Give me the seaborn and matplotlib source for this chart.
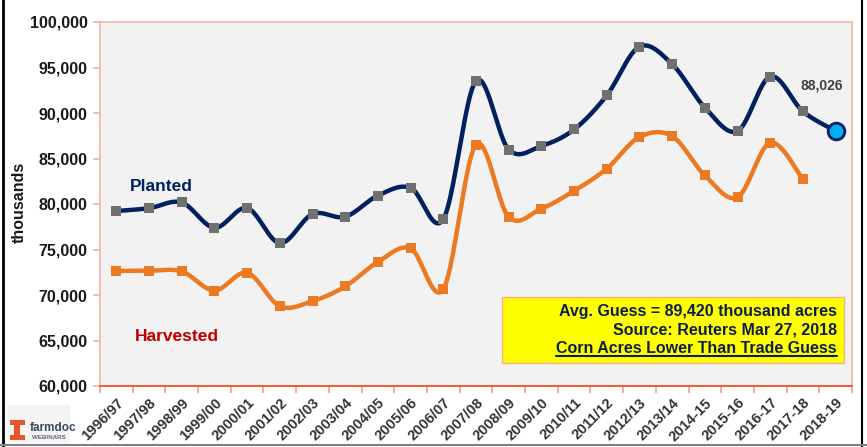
import numpy as np
import pandas as pd
import matplotlib
matplotlib.use("Agg")
import matplotlib.pyplot as plt
import seaborn as sns
from matplotlib.lines import Line2D
from matplotlib.patches import Rectangle

seasons = ["1996/97", "1997/98", "1998/99", "1999/00", "2000/01", "2001/02", "2002/03",
           "2003/04", "2004/05", "2005/06", "2006/07", "2007/08", "2008/09", "2009/10",
           "2010/11", "2011/12", "2012/13", "2013/14", "2014-15", "2015-16", "2016-17",
           "2017-18", "2018-19"]
planted = [79229, 79537, 80165, 77386, 79551, 75702, 78894, 78603, 80929, 81779, 78327,
           93527, 85982, 86382, 88192, 91936, 97291, 95365, 90597, 88019, 94004, 90167, 88026]
harvested = [72644, 72671, 72589, 70487, 72440, 68768, 69330, 70944, 73631, 75117, 70638,
             86520, 78570, 79490, 81446, 83879, 87365, 87451, 83136, 80753, 86748, 82703]
yticks = [60000, 65000, 70000, 75000, 80000, 85000, 90000, 95000, 100000]
notes = ["Avg. Guess = 89,420 thousand acres", "Source: Reuters Mar 27, 2018",
         "Corn Acres Lower Than Trade Guess"]

NAVY = "#002060"
ORANGE = "#EB7A23"
GREY = "#707070"

sns.set_theme(style="white")
plt.rcParams["font.family"] = ["Liberation Sans", "DejaVu Sans"]
plt.rcParams["font.weight"] = "bold"


def smooth_path(y, n=24):
    """Catmull-Rom style smoothing (like Excel's smoothed line) for drawing only."""
    x = np.arange(len(y), dtype=float)
    y = np.asarray(y, dtype=float)
    xs, ys = [], []
    for i in range(len(y) - 1):
        i0, i3 = max(i - 1, 0), min(i + 2, len(y) - 1)
        p0, p1, p2, p3 = (np.array([x[k], y[k]]) for k in (i0, i, i + 1, i3))
        t = np.linspace(0, 1, n, endpoint=(i == len(y) - 2))[:, None]
        pts = 0.5 * ((2 * p1) + (-p0 + p2) * t + (2 * p0 - 5 * p1 + 4 * p2 - p3) * t ** 2
                     + (-p0 + 3 * p1 - 3 * p2 + p3) * t ** 3)
        xs.append(pts[:, 0]); ys.append(pts[:, 1])
    return np.concatenate(xs), np.concatenate(ys)


fig = plt.figure(figsize=(8.67, 4.47), dpi=100)
fig.patch.set_facecolor("white")
ax = fig.add_axes([100 / 867, 61 / 447, 752 / 867, 364 / 447])
ax.set_facecolor("#F2F2F2")

# smooth lines
px, py = smooth_path(planted)
hx, hy = smooth_path(harvested)
sns.lineplot(x=px, y=py, ax=ax, color=NAVY, lw=3.2, sort=False, zorder=3)
sns.lineplot(x=hx, y=hy, ax=ax, color=ORANGE, lw=3.2, sort=False, zorder=3)

# markers
dfp = pd.DataFrame({"i": np.arange(len(planted) - 1), "v": planted[:-1]})
dfh = pd.DataFrame({"i": np.arange(len(harvested)), "v": harvested})
sns.scatterplot(data=dfp, x="i", y="v", ax=ax, marker="s", s=50, color=GREY,
                edgecolor=GREY, linewidth=0, zorder=4)
sns.scatterplot(data=dfh, x="i", y="v", ax=ax, marker="s", s=50, color=ORANGE,
                edgecolor=ORANGE, linewidth=0, zorder=4)
last = len(planted) - 1
ax.plot([last], [planted[-1]], marker="o", ms=12, mfc="#00B0F0", mec=NAVY, mew=2, zorder=5)
ax.annotate(f"{planted[-1]:,}", (last, planted[-1]), xytext=(-10, 33),
            textcoords="offset points", ha="center", va="center",
            fontsize=10, fontweight="bold", color="#404040")

ax.set_xlim(-0.5, len(seasons) - 0.5)
ax.set_ylim(60000, 100000)
ax.set_yticks(yticks)
ax.set_yticklabels([f"{v:,}" for v in yticks], fontsize=11.5, fontweight="bold", color="#1A1A1A")
ax.set_xticks(np.arange(len(seasons) + 1) - 0.5)
ax.set_xticklabels([])
ax.set_xticks(np.arange(len(seasons)), minor=True)
ax.set_xticklabels(seasons, minor=True, rotation=45, ha="right", rotation_mode="anchor",
                   fontsize=10.5, fontweight="bold", color="#333333")
ax.tick_params(axis="x", which="major", length=5, color="#F4A090", direction="out", bottom=True)
ax.tick_params(axis="x", which="minor", length=0, pad=7, bottom=True)
ax.tick_params(axis="y", which="major", length=5, color="#F4B6A8", direction="out", left=True, pad=4)
ax.set_xlabel("")
ax.set_ylabel("thousands", fontsize=11.5, fontweight="bold", color="#1A1A1A")
ax.yaxis.set_label_coords(-0.097, 0.505)

for s in ("left", "top", "right"):
    ax.spines[s].set_color("#F4B6A8")
    ax.spines[s].set_linewidth(1.2)
ax.spines["bottom"].set_color("#F05A30")
ax.spines["bottom"].set_linewidth(1.4)

ax.text(1.37, 81870, "Planted", fontsize=12.5, fontweight="bold", color=NAVY,
        ha="center", va="center")
ax.text(1.85, 65400, "Harvested", fontsize=12.5, fontweight="bold", color="#C00000",
        ha="center", va="center")

# yellow note box
ax.add_patch(Rectangle((0.535, 0.062), 0.454, 0.183, transform=ax.transAxes,
                       facecolor="#FFFF00", edgecolor="#F4B183", lw=1, zorder=6))
texts = []
for t, yy in zip(notes, [0.206, 0.154, 0.102]):
    texts.append(ax.text(0.980, yy, t, transform=ax.transAxes, ha="right", va="center",
                         fontsize=11.5, fontweight="bold", color="#0B1F4F", zorder=7))
fig.canvas.draw()
bb = texts[-1].get_window_extent().transformed(ax.transAxes.inverted())
ax.add_line(Line2D([bb.x0, bb.x1], [bb.y0 + 0.002, bb.y0 + 0.002], transform=ax.transAxes,
                   color="#0B1F4F", lw=1.5, zorder=7))

# figure borders
fig.add_artist(Line2D([3.5 / 867, 3.5 / 867], [0, 1], transform=fig.transFigure, color="black", lw=2))
fig.add_artist(Line2D([862 / 867, 862 / 867], [0, 1], transform=fig.transFigure, color="black", lw=1.5))
fig.add_artist(Line2D([0, 1], [2 / 447, 2 / 447], transform=fig.transFigure, color="#808080", lw=1.5))

# logo
def fbox(x0, y0, x1, y1, color):
    fig.add_artist(Rectangle((x0 / 867, 1 - y1 / 447), (x1 - x0) / 867, (y1 - y0) / 447,
                             transform=fig.transFigure, facecolor=color, edgecolor="none"))

fbox(7, 405, 70, 442, "#F4F4F4")
LOGO = "#E8552A"
fbox(10, 420, 25, 425, LOGO)
fbox(14.5, 425, 20.5, 435, LOGO)
fbox(10, 435, 25, 440, LOGO)
fig.text(30 / 867, 1 - 428 / 447, "farmdoc", fontsize=8.5, fontweight="bold", color="#3A4A5C",
         ha="left", va="center")
fig.text(32 / 867, 1 - 437.5 / 447, "WEBINARS", fontsize=4.5, fontweight="bold", color="#5A6A7C",
         ha="left", va="center")

fig.savefig("out.png", dpi=100)
